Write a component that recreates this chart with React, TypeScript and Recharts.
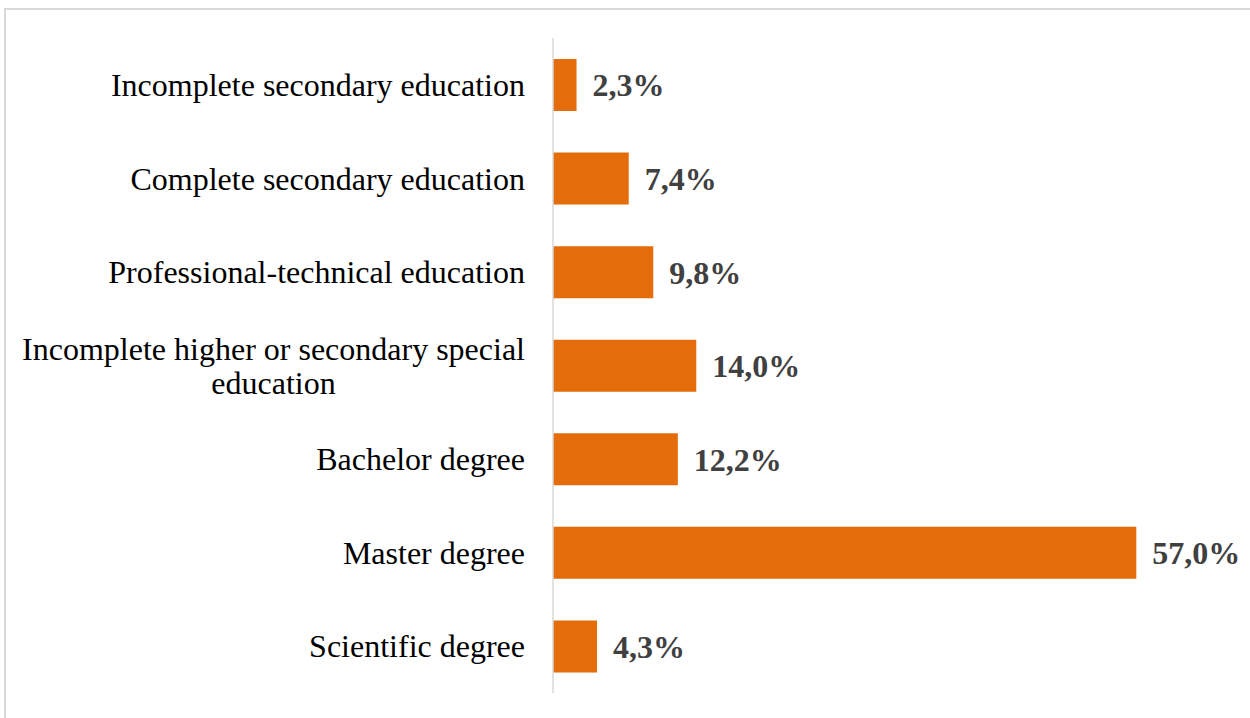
import { BarChart, Bar, XAxis, YAxis, LabelList } from 'recharts';

const categories = [
  'Incomplete secondary education',
  'Complete secondary education',
  'Professional-technical education',
  'Incomplete higher or secondary special\neducation',
  'Bachelor degree',
  'Master degree',
  'Scientific degree',
];
const shares = [2.3, 7.4, 9.8, 14.0, 12.2, 57.0, 4.3];

const data = categories.map((name, i) => ({ name, value: shares[i] }));

const FONT = '"Liberation Serif", "Times New Roman", serif';
const SIZE = 32;

let ctx: CanvasRenderingContext2D | null = null;
function measure(text: string) {
  if (!ctx) ctx = document.createElement('canvas').getContext('2d');
  if (!ctx) return text.length * 15;
  ctx.font = `${SIZE}px ${FONT}`;
  return ctx.measureText(text).width;
}

function CategoryTick({ x, y, payload }: any) {
  const lines: string[] = String(payload.value).split('\n');
  if (lines.length === 1) {
    return (
      <text x={x} y={y} dy="0.35em" textAnchor="end" fontSize={SIZE} fontFamily={FONT} fill="#000">
        {lines[0]}
      </text>
    );
  }
  const w = Math.max(...lines.map(measure));
  const lh = 34;
  const top = y - ((lines.length - 1) * lh) / 2;
  return (
    <text x={x - w / 2} y={top} textAnchor="middle" fontSize={SIZE} fontFamily={FONT} fill="#000">
      {lines.map((l, i) => (
        <tspan key={i} x={x - w / 2} y={top + i * lh} dy="0.35em">
          {l}
        </tspan>
      ))}
    </text>
  );
}

export default function App() {
  return (
    <div style={{ position: 'absolute', left: 0, top: 0, width: 1250, height: 718, background: '#fff', overflow: 'hidden' }}>
      <div
        style={{
          position: 'absolute',
          left: 4,
          top: 8,
          width: 1260,
          height: 730,
          border: '2px solid #d9d9d9',
        }}
      />
      <div style={{ position: 'absolute', left: 0, top: 0 }}>
        <BarChart
          width={1250}
          height={718}
          data={data}
          layout="vertical"
          margin={{ top: 38, right: 83, bottom: 25, left: 0 }}
          barCategoryGap={0}
        >
          <XAxis type="number" domain={[0, 60]} hide />
          <YAxis
            type="category"
            dataKey="name"
            width={553}
            axisLine={{ stroke: '#d9d9d9', strokeWidth: 1.5 }}
            tickLine={false}
            tickSize={0}
            tickMargin={28}
            tick={<CategoryTick />}
            interval={0}
          />
          <Bar dataKey="value" fill="#E46C0A" barSize={52} isAnimationActive={false}>
            <LabelList
              dataKey="value"
              position="right"
              offset={16}
              formatter={(v: any) => `${Number(v).toFixed(1).replace('.', ',')}%`}
              style={{ fontFamily: FONT, fontSize: SIZE, fontWeight: 'bold', fill: '#404040' }}
            />
          </Bar>
        </BarChart>
      </div>
    </div>
  );
}
